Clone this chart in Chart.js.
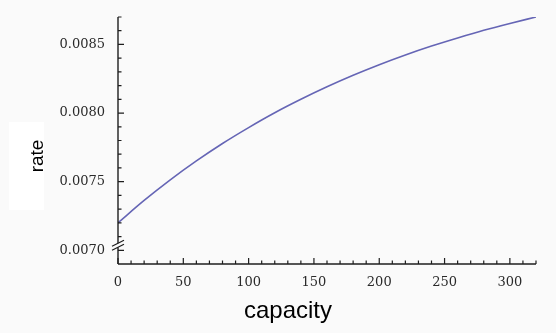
<!DOCTYPE html>
<html>
<head>
<meta charset="utf-8">
<script src="https://cdn.jsdelivr.net/npm/chart.js@4.4.1/dist/chart.umd.min.js"></script>
<style>
  html, body { margin: 0; padding: 0; background: #fafafa; }
  #wrap { width: 556px; height: 333px; position: relative; }
</style>
</head>
<body>
<div id="wrap"><canvas id="c" width="556" height="333"></canvas></div>
<script>
// Data
const capacity = [0, 20, 40, 60, 80, 100, 120, 140, 160, 180, 200, 220, 240, 260, 280, 300, 320];
const rate = [0.007200, 0.007363, 0.007513, 0.007651, 0.007778, 0.007894, 0.008002, 0.008100, 0.008191,
              0.008275, 0.008352, 0.008423, 0.008488, 0.008547, 0.008603, 0.008653, 0.008700];
const xTickValues = [0, 50, 100, 150, 200, 250, 300];
const yTickValues = [0.0070, 0.0075, 0.0080, 0.0085];
const xTitle = 'capacity';
const yTitle = 'rate';

const points = capacity.map((c, i) => ({ x: c, y: rate[i] }));

const AXIS_COLOR = '#1e1e1e';

const decorPlugin = {
  id: 'decor',
  beforeDraw(chart) {
    const ctx = chart.ctx;
    ctx.save();
    ctx.fillStyle = '#fafafa';
    ctx.fillRect(0, 0, chart.width, chart.height);
    // white box behind y title
    ctx.fillStyle = '#ffffff';
    ctx.fillRect(9, 122, 35, 88);
    ctx.restore();
  },
  afterDraw(chart) {
    const ctx = chart.ctx;
    const xs = chart.scales.x, ys = chart.scales.y;
    const left = xs.getPixelForValue(0);
    const right = xs.getPixelForValue(320);
    const bottom = ys.getPixelForValue(ys.min);
    const top = ys.getPixelForValue(0.0087);
    ctx.save();
    ctx.strokeStyle = AXIS_COLOR;
    ctx.lineWidth = 1.4;
    // x axis line
    ctx.beginPath();
    ctx.moveTo(left, bottom);
    ctx.lineTo(right, bottom);
    ctx.stroke();
    // y axis line with break
    const y70 = ys.getPixelForValue(0.0070);
    const brkTop = y70 - 7, brkBot = y70 - 3;
    ctx.beginPath();
    ctx.moveTo(left, top);
    ctx.lineTo(left, brkTop);
    ctx.moveTo(left, brkBot);
    ctx.lineTo(left, bottom);
    ctx.stroke();
    // break marks
    ctx.lineWidth = 1.2;
    ctx.beginPath();
    ctx.moveTo(left - 6, brkTop + 3);
    ctx.lineTo(left + 6, brkTop - 3);
    ctx.moveTo(left - 6, brkBot + 3);
    ctx.lineTo(left + 6, brkBot - 3);
    ctx.stroke();
    // x ticks (inward)
    ctx.lineWidth = 1.2;
    ctx.beginPath();
    for (let v = 0; v <= 320; v += 10) {
      const px = xs.getPixelForValue(v);
      const len = (v % 50 === 0) ? 6 : 3.5;
      ctx.moveTo(px, bottom);
      ctx.lineTo(px, bottom - len);
    }
    // y ticks (inward)
    for (let k = 70; k <= 87; k++) {
      const v = k / 10000;
      const py = ys.getPixelForValue(v);
      const len = (k % 5 === 0) ? 6 : 3.5;
      ctx.moveTo(left, py);
      ctx.lineTo(left + len, py);
    }
    ctx.stroke();
    // titles
    ctx.fillStyle = '#000000';
    ctx.font = '24px "Liberation Sans", Arial, sans-serif';
    ctx.textAlign = 'center';
    ctx.textBaseline = 'alphabetic';
    ctx.fillText(xTitle, 288, 318);
    ctx.save();
    ctx.translate(43, 156);
    ctx.rotate(-Math.PI / 2);
    ctx.font = '19px "Liberation Sans", Arial, sans-serif';
    ctx.fillText(yTitle, 0, 0);
    ctx.restore();
    ctx.restore();
  }
};

new Chart(document.getElementById('c'), {
  type: 'line',
  data: {
    datasets: [{
      data: points,
      borderColor: '#6565b5',
      borderWidth: 1.6,
      pointRadius: 0,
      fill: false,
      cubicInterpolationMode: 'monotone'
    }]
  },
  options: {
    responsive: false,
    animation: false,
    devicePixelRatio: 1,
    layout: { padding: { top: 17, right: 20, left: 0, bottom: 0 } },
    plugins: { legend: { display: false }, tooltip: { enabled: false } },
    scales: {
      x: {
        type: 'linear',
        min: 0,
        max: 320,
        grid: { display: false },
        border: { display: false },
        afterFit(scale) { scale.height = 69; },
        afterBuildTicks(scale) { scale.ticks = xTickValues.map(v => ({ value: v })); },
        ticks: {
          padding: 3,
          color: '#2a2a2a',
          font: { family: 'DejaVu Serif', size: 13 },
          maxRotation: 0,
          callback: v => String(v)
        }
      },
      y: {
        type: 'linear',
        min: 0.0069,
        max: 0.0087,
        grid: { display: false },
        border: { display: false },
        afterFit(scale) { scale.width = 118; },
        afterBuildTicks(scale) { scale.ticks = yTickValues.map(v => ({ value: v })); },
        ticks: {
          padding: 5,
          color: '#2a2a2a',
          font: { family: 'DejaVu Serif', size: 13 },
          callback: v => v.toFixed(4)
        }
      }
    }
  },
  plugins: [decorPlugin]
});
</script>
</body>
</html>
